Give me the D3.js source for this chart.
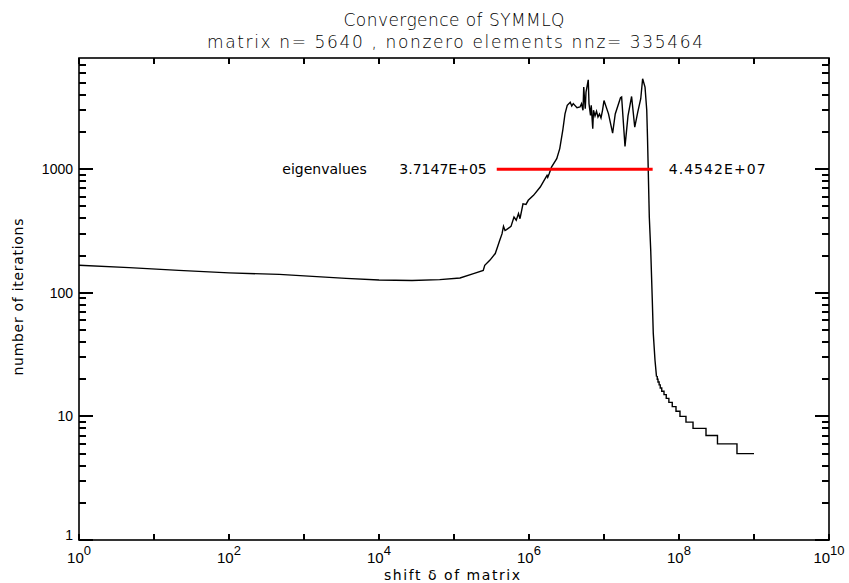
<!DOCTYPE html>
<html>
<head>
<meta charset="utf-8">
<script src="https://cdn.jsdelivr.net/npm/d3@7"></script>
<style>
  body { margin: 0; background: #fff; }
  svg { display: block; font-family: "DejaVu Sans", sans-serif; }
</style>
</head>
<body>
<script>
// Data (shift given as log10 of the shift value)
const shiftLog10 = [
  0.00, 0.67, 1.33, 2.00, 2.67, 3.56, 4.00, 4.44, 4.81, 5.08, 5.26, 5.39, 5.41, 5.48,
  5.55, 5.58, 5.61, 5.64, 5.66, 5.68, 5.70, 5.76, 5.80, 5.83, 5.86, 5.88, 5.92, 5.96,
  5.99, 6.06, 6.15, 6.24, 6.25, 6.27, 6.30, 6.37, 6.41, 6.45, 6.48, 6.51, 6.55, 6.57,
  6.59, 6.64, 6.68, 6.70, 6.72, 6.73, 6.74, 6.75, 6.76, 6.79, 6.80, 6.82, 6.83, 6.85,
  6.86, 6.88, 6.90, 6.92, 6.94, 6.96, 6.98, 7.00, 7.06, 7.115, 7.15, 7.22, 7.235, 7.28,
  7.32, 7.368, 7.41, 7.45, 7.49, 7.515, 7.547, 7.57, 7.58, 7.59, 7.604, 7.623, 7.644,
  7.657, 7.68, 7.70
];
const iterations = [
  167, 160, 152, 145, 141, 131, 127, 126, 128, 132, 143, 152, 167, 184,
  208, 235, 266, 300, 345, 320, 325, 345, 411, 387, 438, 398, 525, 520,
  561, 615, 718, 892, 860, 923, 1040, 1220, 1470, 2060, 2810, 3290, 3490, 3250,
  3400, 3150, 3190, 3390, 3000, 4620, 3700, 3090, 4200, 5300, 3400, 2730, 3300, 2130,
  3000, 2700, 2950, 2650, 2800, 2600, 3000, 3600, 2810, 1960, 2800, 3790, 3840, 1530,
  2700, 3880, 2190, 2900, 3720, 5400, 4620, 3000, 1800, 980, 411, 221, 87,
  47, 28.5, 21
];
// staircase tail (integer iteration counts)
const tailShiftLog10 = [7.70, 7.71, 7.72, 7.735, 7.75, 7.77, 7.80, 7.83, 7.865, 7.91, 7.96, 8.013, 8.093, 8.187, 8.36, 8.513, 8.773, 9.0];
const tailIterations = [21, 20, 19, 18, 17, 16, 15, 14, 13, 12, 11, 10, 9, 8, 7, 6, 5, 5];

const eigenvalues = [3.7147e5, 4.4542e7];
const eigenLabels = ["3.7147E+05", "4.4542E+07"];
const eigenLevel = 1000;

const yMajor = [1, 10, 100, 1000];
const xLabelExps = [0, 2, 4, 6, 8, 10];

const W = 849, H = 583;
const margin = { top: 58, right: 20, bottom: 43, left: 79 };
const plotW = W - margin.left - margin.right;
const plotH = H - margin.top - margin.bottom;

const svg = d3.select('body').append('svg').attr('width', W).attr('height', H);
const g = svg.append('g').attr('transform', `translate(${margin.left},${margin.top})`);

const x = d3.scaleLog().domain([1, 1e10]).range([0, plotW]);
const y = d3.scaleLog().domain([1, 7950]).range([plotH, 0]);

// minor y ticks
const yMinor = [];
for (let p = 1; p <= 1000; p *= 10) for (let k = 2; k <= 9; k++) if (p * k < 7950) yMinor.push(p * k);
const xTicks = d3.range(0, 11).map(e => Math.pow(10, e));

// ticks on all four sides, pointing inward, drawn as one path
const yt = [...yMajor.map(v => ({ v, len: 14 })), ...yMinor.map(v => ({ v, len: 7 }))];
const tickPath = d3.path();
yt.forEach(d => {
  const ty = Math.round(y(d.v));
  tickPath.moveTo(0, ty); tickPath.lineTo(d.len, ty);
  tickPath.moveTo(plotW, ty); tickPath.lineTo(plotW - d.len, ty);
});
xTicks.forEach(d => {
  const tx = Math.round(x(d));
  tickPath.moveTo(tx, plotH); tickPath.lineTo(tx, plotH - 6);
  tickPath.moveTo(tx, 0); tickPath.lineTo(tx, 6);
});
g.append('path').attr('d', tickPath.toString())
  .attr('fill', 'none').attr('stroke', '#000').attr('stroke-width', 2)
  .attr('shape-rendering', 'crispEdges');

// y labels
g.append('g').selectAll('text').data(yMajor).join('text')
  .attr('x', -6).attr('y', d => y(d) + (d === 1 ? 0 : 5))
  .attr('text-anchor', 'end').attr('font-size', 14)
  .attr('font-family', 'Liberation Sans, Arial, sans-serif')
  .text(d3.format('d'));

// x labels 10^n
const xl = g.append('g').selectAll('text').data(xLabelExps).join('text')
  .attr('x', d => x(Math.pow(10, d)))
  .attr('y', plotH + 23)
  .attr('text-anchor', 'middle')
  .attr('font-family', 'Liberation Sans, Arial, sans-serif')
  .attr('font-size', 15);
xl.append('tspan').text('10');
xl.append('tspan').attr('dy', -8).attr('font-size', 13).text(d => d);

// frame
g.append('rect').attr('width', plotW).attr('height', plotH)
  .attr('fill', 'none').attr('stroke', '#000').attr('stroke-width', 1.6);

// curve
const line = d3.line().x(d => x(Math.pow(10, d[0]))).y(d => y(d[1]));
g.append('path')
  .datum(shiftLog10.map((s, i) => [s, iterations[i]]))
  .attr('fill', 'none').attr('stroke', '#000').attr('stroke-width', 1.4)
  .attr('d', line);
g.append('path')
  .datum(tailShiftLog10.map((s, i) => [s, tailIterations[i]]))
  .attr('fill', 'none').attr('stroke', '#000').attr('stroke-width', 1.4)
  .attr('d', line.curve(d3.curveStepAfter));

// eigenvalue bar
g.append('line')
  .attr('x1', x(eigenvalues[0])).attr('x2', x(eigenvalues[1]))
  .attr('y1', y(eigenLevel)).attr('y2', y(eigenLevel))
  .attr('stroke', '#ff0000').attr('stroke-width', 3);
g.append('text').attr('x', x(eigenvalues[0]) - 10).attr('y', y(eigenLevel) + 5)
  .attr('text-anchor', 'end').attr('font-size', 14).text(eigenLabels[0]);
g.append('text').attr('x', x(eigenvalues[0]) - 130).attr('y', y(eigenLevel) + 5)
  .attr('text-anchor', 'end').attr('font-size', 14).text('eigenvalues');
g.append('text').attr('x', x(eigenvalues[1]) + 16).attr('y', y(eigenLevel) + 5)
  .attr('text-anchor', 'start').attr('font-size', 14).attr('textLength', 97).text(eigenLabels[1]);

// titles
svg.append('text').attr('x', 454).attr('y', 26).attr('text-anchor', 'middle')
  .attr('font-size', 17).attr('font-weight', 200).attr('textLength', 221).text('Convergence of SYMMLQ');
svg.append('text').attr('x', 455).attr('y', 48).attr('text-anchor', 'middle')
  .attr('font-size', 17).attr('font-weight', 200).attr('textLength', 496).text('matrix n= 5640 , nonzero elements nnz= 335464');
svg.append('text').attr('x', 452).attr('y', 580).attr('text-anchor', 'middle')
  .attr('font-size', 14).attr('textLength', 136).text('shift δ of matrix');
svg.append('text').attr('transform', 'translate(23,297) rotate(-90)').attr('text-anchor', 'middle')
  .attr('font-size', 14).attr('textLength', 157).text('number of iterations');
</script>
</body>
</html>
